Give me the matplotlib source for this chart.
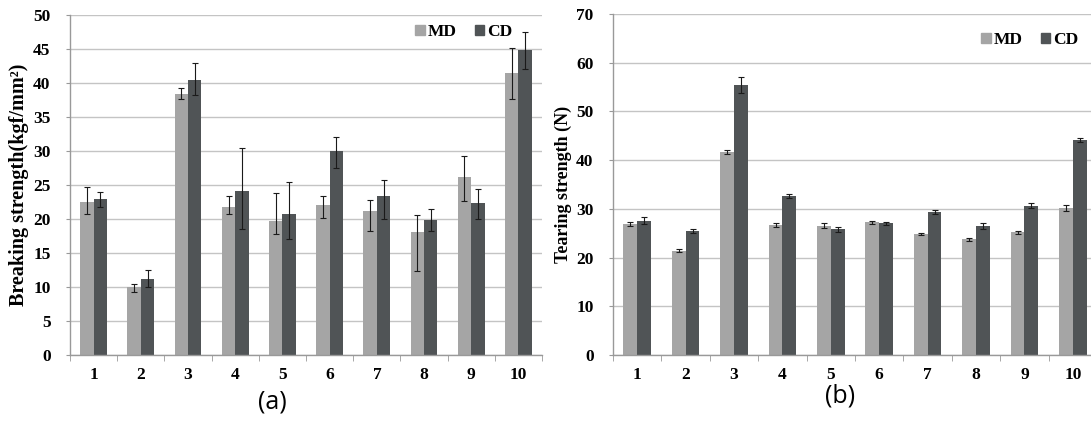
import numpy as np
import matplotlib
matplotlib.use('Agg')
import matplotlib.pyplot as plt
from matplotlib.patches import Patch

# samples 1..10
samples = ['1', '2', '3', '4', '5', '6', '7', '8', '9', '10']

# (a) breaking strength, kgf/mm2
break_md = [22.5, 10.0, 38.4, 21.7, 19.7, 22.0, 21.2, 18.1, 26.2, 41.4]
break_md_lo = [1.8, 0.7, 0.8, 1.0, 1.9, 1.8, 2.9, 5.7, 3.5, 3.7]
break_md_hi = [2.2, 0.4, 0.8, 1.7, 4.1, 1.4, 1.6, 2.5, 3.0, 3.7]
break_cd = [22.9, 11.2, 40.5, 24.1, 20.7, 30.0, 23.4, 19.8, 22.3, 44.9]
break_cd_lo = [1.1, 1.2, 2.2, 5.6, 3.6, 2.5, 3.4, 1.6, 2.3, 2.9]
break_cd_hi = [1.0, 1.3, 2.5, 6.4, 4.7, 2.0, 2.3, 1.7, 2.1, 2.6]

# (b) tearing strength, N
tear_md = [26.9, 21.4, 41.6, 26.6, 26.5, 27.2, 24.8, 23.8, 25.2, 30.2]
tear_md_err = [0.5, 0.3, 0.4, 0.4, 0.5, 0.4, 0.2, 0.3, 0.3, 0.6]
tear_cd = [27.6, 25.5, 55.4, 32.6, 25.8, 27.0, 29.4, 26.5, 30.6, 44.1]
tear_cd_err = [0.7, 0.4, 1.6, 0.4, 0.5, 0.4, 0.4, 0.6, 0.5, 0.4]

MD_COLOR = '#a5a5a5'
CD_COLOR = '#505456'
GRID = '#c4c4c4'
SERIF = 'Liberation Serif'

fig = plt.figure(figsize=(10.91, 4.21), dpi=100)
ax1 = fig.add_axes([0.0642, 0.1568, 0.4326, 0.8076])
ax2 = fig.add_axes([0.5619, 0.1568, 0.4436, 0.8100])


def draw(ax, md, cd, md_err, cd_err, ymax, ystep, ylabel, ylabel_size, tag, tag_xy, leg_anchor):
    x = np.arange(len(samples))
    w = 0.285
    ax.bar(x - w / 2, md, w, color=MD_COLOR, zorder=2)
    ax.bar(x + w / 2, cd, w, color=CD_COLOR, zorder=2)
    ax.errorbar(x - w / 2, md, yerr=md_err, fmt='none', ecolor='#1a1a1a',
                elinewidth=0.8, capsize=2, capthick=0.8, zorder=3)
    ax.errorbar(x + w / 2, cd, yerr=cd_err, fmt='none', ecolor='#1a1a1a',
                elinewidth=0.8, capsize=2, capthick=0.8, zorder=3)

    ax.set_xlim(-0.5, len(samples) - 0.5)
    ax.set_ylim(0, ymax)
    ax.set_yticks(np.arange(0, ymax + 0.1, ystep))
    ax.yaxis.grid(True, color=GRID, linewidth=1.0, zorder=0)
    ax.set_axisbelow(True)

    # category labels in the middle, ticks on the boundaries
    ax.set_xticks(x)
    ax.set_xticklabels(samples)
    ax.set_xticks(np.arange(-0.5, len(samples)), minor=True)
    ax.tick_params(axis='x', which='major', length=0, pad=9)
    ax.tick_params(axis='x', which='minor', length=4, color='#999999')
    ax.tick_params(axis='y', length=3, color='#999999', pad=11)
    for lab in ax.get_xticklabels() + ax.get_yticklabels():
        lab.set_fontfamily(SERIF)
        lab.set_fontweight('bold')
        lab.set_fontsize(12.5)

    for s in ['top', 'right']:
        ax.spines[s].set_visible(False)
    for s in ['left', 'bottom']:
        ax.spines[s].set_color('#999999')
        ax.spines[s].set_linewidth(1.0)

    ax.set_ylabel(ylabel, fontfamily=SERIF, fontweight='bold', fontsize=ylabel_size, labelpad=3)

    handles = [Patch(color=MD_COLOR, label='MD'), Patch(color=CD_COLOR, label='CD')]
    ax.legend(handles=handles, loc='center', bbox_to_anchor=leg_anchor,
              bbox_transform=fig.transFigure, ncol=2, frameon=False,
              handlelength=0.55, handleheight=0.55, handletextpad=0.2,
              columnspacing=1.0, prop={'family': SERIF, 'weight': 'bold', 'size': 12.5})

    fig.text(tag_xy[0], tag_xy[1], tag, fontfamily='Open Sans', fontsize=18,
             ha='center', va='center')


draw(ax1, break_md, break_cd, [break_md_lo, break_md_hi], [break_cd_lo, break_cd_hi],
     50, 5, 'Breaking strength(kgf/mm²)', 14.5, '(a)', (272 / 1091, 1 - 402 / 421),
     (464 / 1091, 1 - 32 / 421))
draw(ax2, tear_md, tear_cd, tear_md_err, tear_cd_err,
     70, 10, 'Tearing strength (N)', 13, '(b)', (840 / 1091, 1 - 396 / 421),
     (1030 / 1091, 1 - 40 / 421))

plt.savefig('out.png', dpi=100)
